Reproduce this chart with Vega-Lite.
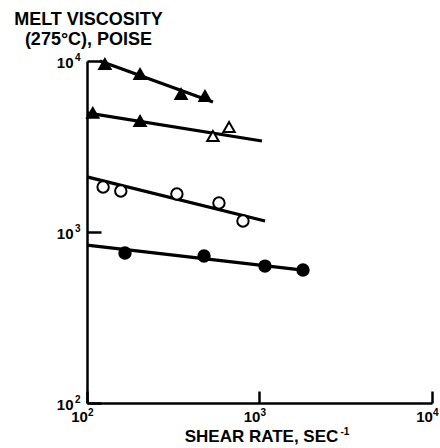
{
  "$schema": "https://vega.github.io/schema/vega-lite/v6.json",
  "width": 345,
  "height": 342,
  "autosize": {"type": "none"},
  "padding": {"left": 87, "top": 61, "right": 8, "bottom": 45},
  "background": "white",
  "config": {
    "view": {"stroke": null},
    "axis": {
      "grid": false,
      "domainColor": "black",
      "domainWidth": 2.5,
      "tickColor": "black",
      "tickWidth": 2.5,
      "labelFont": "Liberation Sans",
      "labelFontWeight": "bold",
      "labelFontSize": 15,
      "labelColor": "black",
      "titleFont": "Liberation Sans",
      "titleFontWeight": "bold",
      "titleColor": "black"
    }
  },
  "datasets": {
    "points": [
      {"series": "A", "kind": "filled", "rate": 127, "viscosity": 9600},
      {"series": "A", "kind": "filled", "rate": 203, "viscosity": 8400},
      {"series": "A", "kind": "filled", "rate": 351, "viscosity": 6410},
      {"series": "A", "kind": "filled", "rate": 483, "viscosity": 6240},
      {"series": "B", "kind": "filled", "rate": 108, "viscosity": 4970},
      {"series": "B", "kind": "filled", "rate": 203, "viscosity": 4460},
      {"series": "B", "kind": "open", "rate": 537, "viscosity": 3640},
      {"series": "B", "kind": "open", "rate": 666, "viscosity": 4110},
      {"series": "C", "kind": "open", "rate": 124, "viscosity": 1833},
      {"series": "C", "kind": "open", "rate": 157, "viscosity": 1738},
      {"series": "C", "kind": "open", "rate": 332, "viscosity": 1668},
      {"series": "C", "kind": "open", "rate": 582, "viscosity": 1478},
      {"series": "C", "kind": "open", "rate": 802, "viscosity": 1160},
      {"series": "D", "kind": "filled", "rate": 166, "viscosity": 754},
      {"series": "D", "kind": "filled", "rate": 477, "viscosity": 724},
      {"series": "D", "kind": "filled", "rate": 1076, "viscosity": 632},
      {"series": "D", "kind": "filled", "rate": 1787, "viscosity": 599}
    ],
    "fits": [
      {"series": "A", "rate": 119, "viscosity": 10000},
      {"series": "A", "rate": 537, "viscosity": 5750},
      {"series": "B", "rate": 100, "viscosity": 4970},
      {"series": "B", "rate": 1033, "viscosity": 3405},
      {"series": "C", "rate": 100, "viscosity": 2100},
      {"series": "C", "rate": 1077, "viscosity": 1159},
      {"series": "D", "rate": 100, "viscosity": 839},
      {"series": "D", "rate": 1787, "viscosity": 599}
    ],
    "exponents": [
      {"value": 100, "exp": "2"},
      {"value": 1000, "exp": "3"},
      {"value": 10000, "exp": "4"}
    ],
    "titleExponent": [
      {"exp": "-1"}
    ]
  },
  "layer": [
    {
      "data": {"name": "fits"},
      "mark": {"type": "line", "color": "black", "strokeWidth": 3.2},
      "encoding": {
        "x": {
          "field": "rate", "type": "quantitative",
          "scale": {"type": "log", "domain": [100, 10000], "nice": false},
          "axis": {
            "values": [100, 1000, 10000],
            "labelExpr": "'10'",
            "labelFlush": false,
            "labelOffset": -8,
            "tickSize": -12,
            "labelPadding": 18,
            "title": "SHEAR RATE, SEC",
            "titleFontSize": 17,
            "titleX": 174,
            "titleY": 38,
            "titleBaseline": "alphabetic"
          }
        },
        "y": {
          "field": "viscosity", "type": "quantitative",
          "scale": {"type": "log", "domain": [100, 10000], "nice": false},
          "axis": {
            "values": [100, 1000, 10000],
            "labelExpr": "'10'",
            "labelFlush": false,
            "tickSize": -14,
            "labelPadding": 28,
            "labelBaseline": "middle",
            "labelOffset": 1,
            "title": ["MELT VISCOSITY", "(275°C), POISE"],
            "titleFontSize": 18,
            "titleLineHeight": 20,
            "titleAngle": 0,
            "titleAlign": "center",
            "titleBaseline": "alphabetic",
            "titleX": 1,
            "titleY": -37
          }
        },
        "detail": {"field": "series"}
      }
    },
    {
      "data": {"name": "points"},
      "mark": {"type": "point", "stroke": "black", "strokeWidth": 2, "opacity": 1},
      "encoding": {
        "x": {"field": "rate", "type": "quantitative"},
        "y": {"field": "viscosity", "type": "quantitative"},
        "shape": {
          "field": "series", "type": "nominal", "legend": null,
          "scale": {"domain": ["A", "B", "C", "D"], "range": ["triangle-up", "triangle-up", "circle", "circle"]}
        },
        "fill": {
          "field": "kind", "type": "nominal", "legend": null,
          "scale": {"domain": ["filled", "open"], "range": ["black", "white"]}
        },
        "size": {
          "field": "series", "type": "nominal", "legend": null,
          "scale": {"domain": ["A", "B", "C", "D"], "range": [130, 130, 70, 90]}
        }
      }
    },
    {
      "data": {"name": "exponents"},
      "mark": {"type": "text", "font": "Liberation Sans", "fontWeight": "bold", "fontSize": 10, "align": "left", "baseline": "middle", "dx": 1, "dy": 10, "clip": false},
      "encoding": {
        "x": {"field": "value", "type": "quantitative"},
        "y": {"datum": 100, "type": "quantitative"},
        "text": {"field": "exp"}
      }
    },
    {
      "data": {"name": "exponents"},
      "mark": {"type": "text", "font": "Liberation Sans", "fontWeight": "bold", "fontSize": 10, "align": "left", "baseline": "middle", "dx": -12, "dy": -3},
      "encoding": {
        "x": {"datum": 100, "type": "quantitative"},
        "y": {"field": "value", "type": "quantitative"},
        "text": {"field": "exp"}
      }
    },
    {
      "data": {"name": "titleExponent"},
      "mark": {"type": "text", "font": "Liberation Sans", "fontWeight": "bold", "fontSize": 10, "align": "left", "baseline": "middle", "dx": 81, "dy": 29},
      "encoding": {
        "x": {"datum": 1000, "type": "quantitative"},
        "y": {"datum": 100, "type": "quantitative"},
        "text": {"field": "exp"}
      }
    }
  ]
}
